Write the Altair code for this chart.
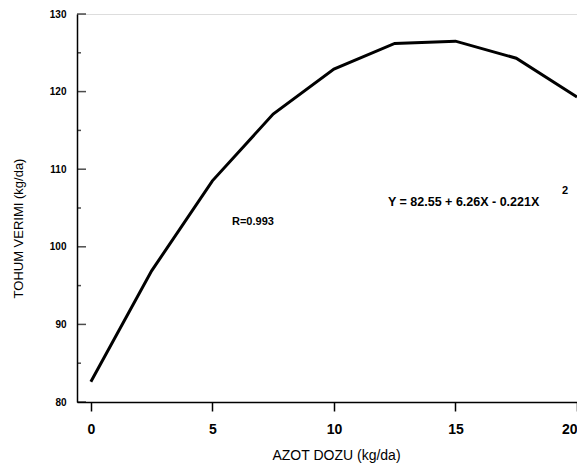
import altair as alt
import pandas as pd

doses = [0, 2.5, 5, 7.5, 10, 12.5, 15, 17.5, 20]
yields = [82.6, 96.9, 108.5, 117.1, 122.9, 126.2, 126.5, 124.3, 119.3]
major_ticks = [80, 90, 100, 110, 120, 130]
minor_ticks = [85, 95, 105, 115, 125]
x_ticks = [0, 5, 10, 15, 20]

df = pd.DataFrame({"dose": doses, "yield": yields})
FONT = "Liberation Sans"

xscale = alt.Scale(domain=[-0.57, 20], nice=False, zero=False)
yscale = alt.Scale(domain=[80, 130], nice=False, zero=False)

line = alt.Chart(df).mark_line(color="black", strokeWidth=3).encode(
    x=alt.X("dose:Q", scale=xscale,
            axis=alt.Axis(values=x_ticks, title="AZOT DOZU (kg/da)", grid=False,
                          domainColor="black", domainWidth=1.5, tickColor="black",
                          tickSize=9, tickWidth=1.5, labelPadding=11,
                          labelFont=FONT, labelFontSize=14, labelFontWeight="bold",
                          labelColor="black", titleFont=FONT, titleFontSize=14,
                          titleFontWeight="normal", titleColor="black",
                          titleX=259, titleY=53, titleBaseline="middle")),
    y=alt.Y("yield:Q", scale=yscale,
            axis=alt.Axis(values=major_ticks, title="TOHUM VERIMI (kg/da)", grid=False,
                          ticks=False, domainColor="black", domainWidth=1.5,
                          labelPadding=11, labelFont=FONT, labelFontSize=10,
                          labelFontWeight="bold", labelColor="black",
                          titleFont=FONT, titleFontSize=13, titleFontWeight="normal",
                          titleColor="black", titleX=-59, titleY=214,
                          titleAngle=-90, titleAlign="center", titleBaseline="middle")),
)

maj = alt.Chart(pd.DataFrame({"v": major_ticks})).mark_tick(
    orient="horizontal", size=9, thickness=1.5, color="black"
).encode(y=alt.Y("v:Q", scale=yscale), x=alt.value(4.5))

mino = alt.Chart(pd.DataFrame({"v": minor_ticks})).mark_tick(
    orient="horizontal", size=4, thickness=1.5, color="black"
).encode(y=alt.Y("v:Q", scale=yscale), x=alt.value(2))

r_text = alt.Chart(pd.DataFrame({"t": ["R=0.993"]})).mark_text(
    font=FONT, fontSize=11, fontWeight="bold", align="left", baseline="middle", color="black"
).encode(text="t:N", x=alt.value(155), y=alt.value(208))

eq_text = alt.Chart(pd.DataFrame({"t": ["Y = 82.55 + 6.26X - 0.221X"]})).mark_text(
    font=FONT, fontSize=12.5, fontWeight="bold", align="left", baseline="middle", color="black"
).encode(text="t:N", x=alt.value(311), y=alt.value(188))

sup_text = alt.Chart(pd.DataFrame({"t": ["2"]})).mark_text(
    font=FONT, fontSize=11, fontWeight="bold", align="left", baseline="middle", color="black"
).encode(text="t:N", x=alt.value(485), y=alt.value(177))

chart = alt.layer(line, maj, mino, r_text, eq_text, sup_text).properties(
    width=500, height=388,
    autosize=alt.AutoSizeParams(type="none"),
    padding={"left": 69, "top": 6, "right": 0, "bottom": 64},
).configure_view(stroke=None).configure(background="white")

chart.save("out.html", embed_options={"renderer": "svg", "actions": False})
